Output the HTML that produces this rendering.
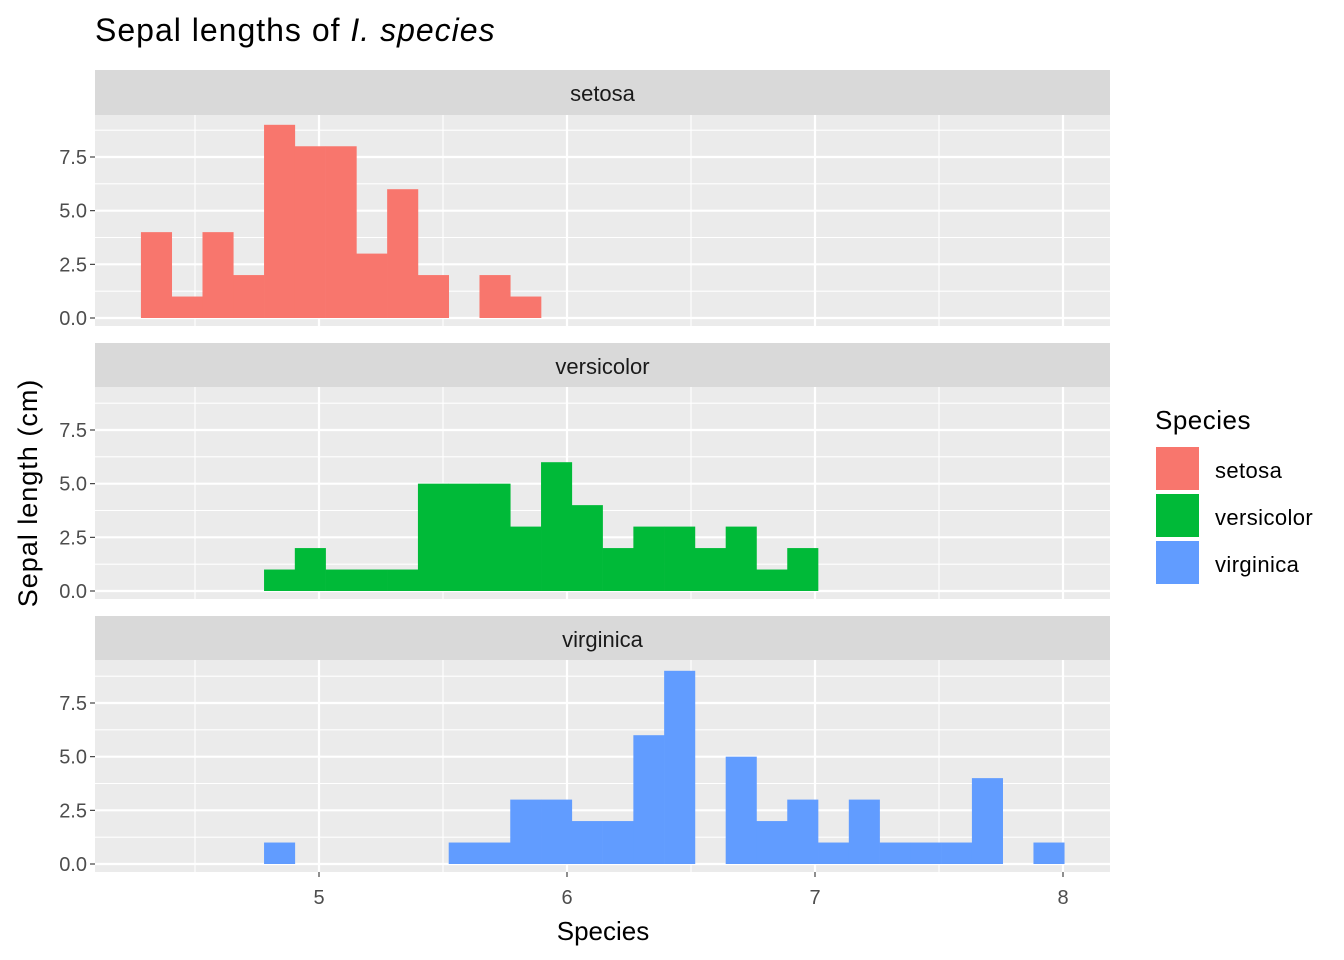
<!DOCTYPE html>
<html><head><meta charset="utf-8"><style>
html,body{margin:0;padding:0;background:#fff;}
svg{display:block;font-family:"Liberation Sans",Arial,sans-serif;}
</style></head><body>
<svg id="chart" width="1344" height="960" viewBox="0 0 1344 960"></svg>
<script>
const speciesNames = ["setosa","versicolor","virginica"];
const speciesColors = ["#F8766D","#00BA38","#619CFF"];
const binStart = 4.282;
const binWidth = 0.1241;
const setosaCounts = [4,1,4,2,9,8,8,3,6,2,0,2,1,0,0,0,0,0,0,0,0,0,0,0,0,0,0,0,0,0];
const versicolorCounts = [0,0,0,0,1,2,1,1,1,5,5,5,3,6,4,2,3,3,2,3,1,2,0,0,0,0,0,0,0,0];
const virginicaCounts = [0,0,0,0,1,0,0,0,0,0,1,1,3,3,2,2,6,9,0,5,2,3,1,3,1,1,1,4,0,1];
const xTicks = [5,6,7,8];
const xMinor = [4.5,5.5,6.5,7.5];
const yTicks = [0,2.5,5,7.5];
const yTickLabels = ["0.0","2.5","5.0","7.5"];
const yMinor = [1.25,3.75,6.25,8.75];

const allCounts = [setosaCounts,versicolorCounts,virginicaCounts];
const NS = "http://www.w3.org/2000/svg";
const svg = document.getElementById("chart");
function mk(tag, attrs, parent){const e=document.createElementNS(NS,tag);for(const k in attrs)e.setAttribute(k,attrs[k]);(parent||svg).appendChild(e);return e;}
const PX0=95, PX1=1110;
const xs = v => 319 + (v-5)*248;
const panels = [{s:70,t:115,b:326,z:318},{s:343,t:387,b:599,z:591},{s:616,t:660,b:872,z:864}];
const yPer = (318-157)/7.5;

const title = mk("text",{x:95,y:41,"font-size":"32","letter-spacing":"1"});


title.innerHTML = 'Sepal lengths of <tspan font-style="italic">I. species</tspan>';

panels.forEach((p,i)=>{
  const g = mk("g",{});
  
  
  const strip = mk("rect",{x:PX0,y:p.s,width:PX1-PX0,height:p.t-p.s,fill:"#D9D9D9"},g);
  
  
  const st = mk("text",{x:(PX0+PX1)/2,y:p.s+31,"text-anchor":"middle","font-size":"22",fill:"#1A1A1A"},g);
  
  
  st.textContent = speciesNames[i];
  const bg = mk("rect",{x:PX0,y:p.t,width:PX1-PX0,height:p.b-p.t,fill:"#EBEBEB"},g);
  
  
  const ys = v => p.z - v*yPer;
  yMinor.forEach(v=>{ if(ys(v)>p.t) mk("line",{x1:PX0,x2:PX1,y1:ys(v),y2:ys(v),stroke:"#fff","stroke-width":1.1},g);});
  xMinor.forEach(v=>mk("line",{x1:xs(v),x2:xs(v),y1:p.t,y2:p.b,stroke:"#fff","stroke-width":1.1},g));
  yTicks.forEach(v=>mk("line",{x1:PX0,x2:PX1,y1:ys(v),y2:ys(v),stroke:"#fff","stroke-width":2.2},g));
  xTicks.forEach(v=>mk("line",{x1:xs(v),x2:xs(v),y1:p.t,y2:p.b,stroke:"#fff","stroke-width":2.2},g));
  allCounts[i].forEach((c,k)=>{
    if(c<=0) return;
    const x0 = xs(binStart+k*binWidth), x1 = xs(binStart+(k+1)*binWidth);
    const r = mk("rect",{x:x0,y:ys(c),width:x1-x0+0.3,height:ys(0)-ys(c),fill:speciesColors[i]},g);
    
    
  });
  yTicks.forEach((v,j)=>{
    mk("line",{x1:PX0-5,x2:PX0,y1:ys(v),y2:ys(v),stroke:"#333","stroke-width":1.1},g);
    const t = mk("text",{x:PX0-8,y:ys(v)+7,"text-anchor":"end","font-size":"20",fill:"#4D4D4D"},g);
    
    
    t.textContent = yTickLabels[j];
  });
});
xTicks.forEach(v=>{
  mk("line",{x1:xs(v),x2:xs(v),y1:872,y2:877,stroke:"#333","stroke-width":1.1});
  const t = mk("text",{x:xs(v),y:904,"text-anchor":"middle","font-size":"20",fill:"#4D4D4D"});
  
  
  t.textContent = v;
});
const xt = mk("text",{x:603,y:940,"text-anchor":"middle","font-size":"26"});


xt.textContent = "Species";
const yt = mk("text",{x:0,y:0,"text-anchor":"middle","font-size":"27","letter-spacing":"1",transform:"translate(37,493) rotate(-90)"});


yt.textContent = "Sepal length (cm)";

const lt = mk("text",{x:1155,y:429,"font-size":"26","letter-spacing":"0.5"});


lt.textContent = "Species";
speciesNames.forEach((n,i)=>{
  const y = 447 + i*47;
  const sw = mk("rect",{x:1156,y:y,width:43,height:43,fill:speciesColors[i]});
  
  
  const t = mk("text",{x:1215,y:y+31,"font-size":"22","letter-spacing":"0.4"});
  
  
  t.textContent = n;
});
</script>
</body></html>
